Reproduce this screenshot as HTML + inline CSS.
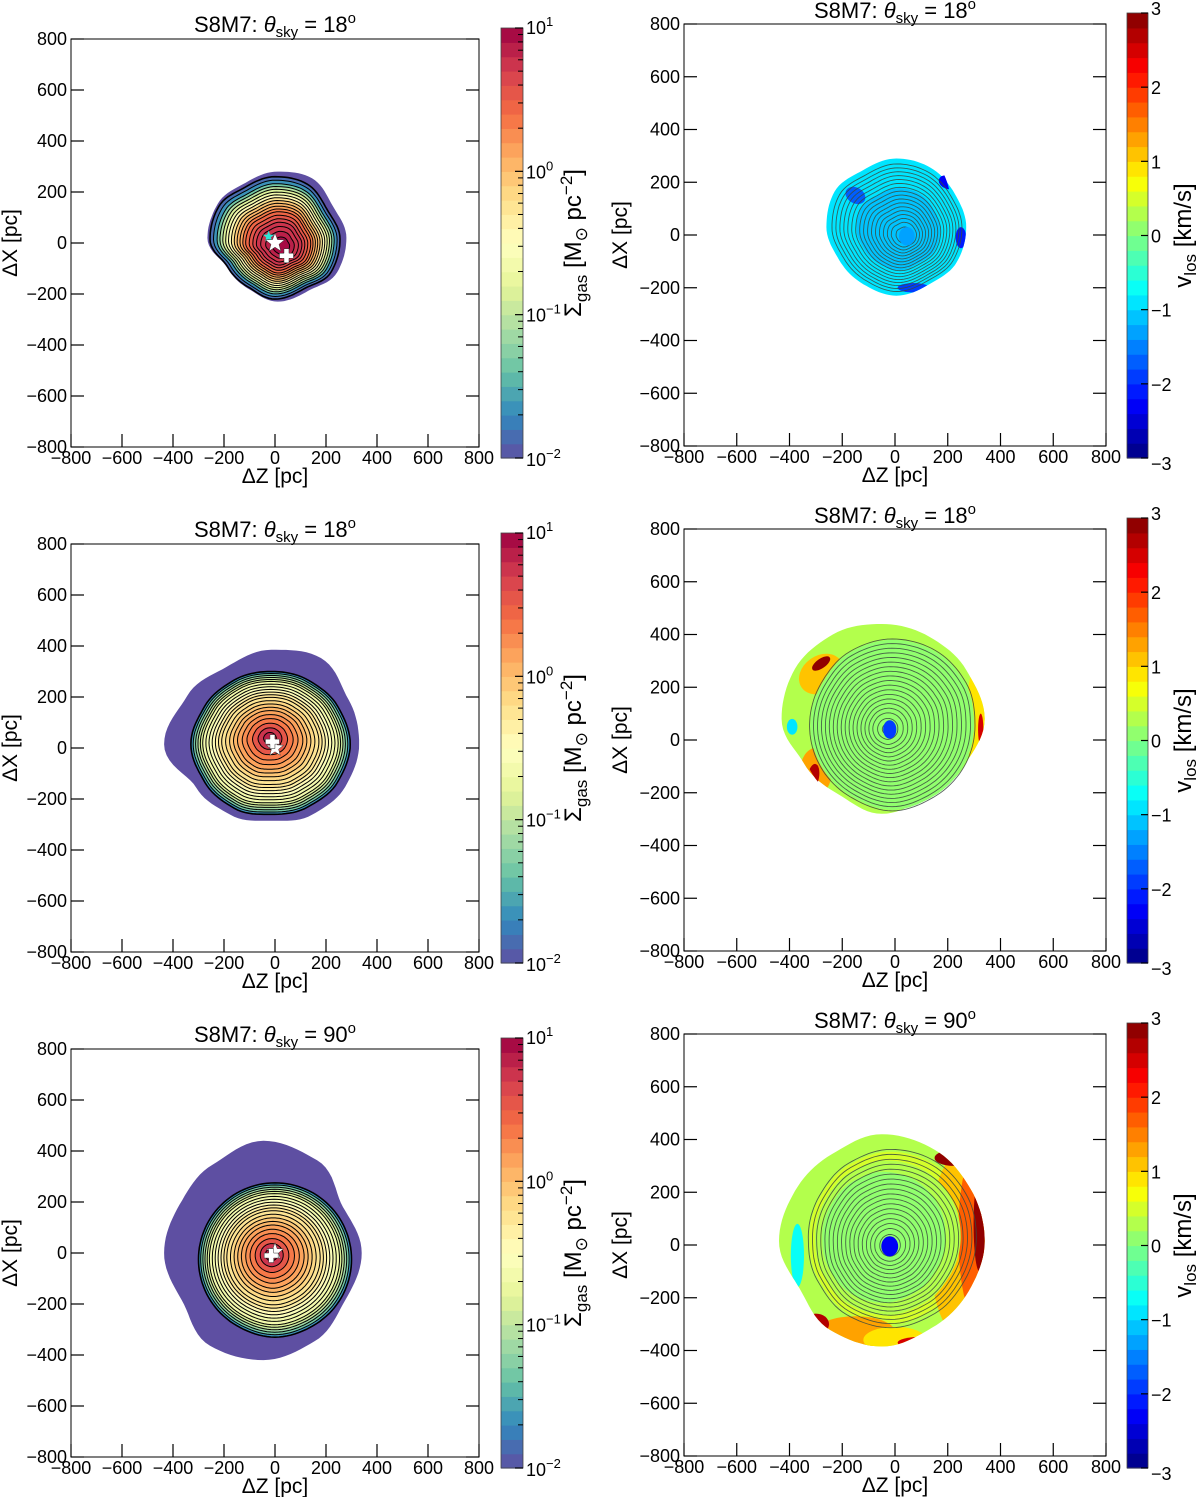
<!DOCTYPE html>
<html><head><meta charset="utf-8"><style>
html,body{margin:0;padding:0;background:#fff;}
svg{display:block;font-family:"Liberation Sans","DejaVu Sans",sans-serif;}
</style></head><body>
<svg id="fig" width="1200" height="1497" viewBox="0 0 1200 1497" xmlns="http://www.w3.org/2000/svg"></svg>
<script>
// ---------- data ----------
const xTicks = [-800,-600,-400,-200,0,200,400,600,800];
const yTicks = [-800,-600,-400,-200,0,200,400,600,800];
const titles = ["18","18","18","18","90","90"];
const densScales1 = [1,0.95,0.9,0.86,0.82,0.78,0.74,0.70,0.66,0.62,0.58,0.54,0.50,0.45,0.40,0.35,0.29,0.22,0.14];
const densVals1   = [-1.9,-1.6,-1.3,-1.05,-0.8,-0.6,-0.42,-0.25,-0.1,0.05,0.18,0.3,0.42,0.52,0.62,0.72,0.8,0.88,0.95];
const densScales2 = [1,0.97,0.94,0.91,0.88,0.85,0.81,0.77,0.73,0.69,0.65,0.61,0.56,0.51,0.46,0.41,0.35,0.29,0.22,0.15,0.08];
const densVals2   = [-1.7,-1.4,-1.15,-0.95,-0.8,-0.7,-0.6,-0.52,-0.45,-0.38,-0.3,-0.22,-0.14,-0.05,0.05,0.15,0.27,0.4,0.55,0.7,0.85];
const outer1 = [270,250,270,260,250,270,275,230,230,250,240,270];
const cont1  = [255,235,250,245,235,255,255,215,215,235,225,255];
const outer3 = [345,350,390,370,350,380,420,340,320,300,320,335];
const cont3  = [310,300,290,285,290,300,315,300,290,275,285,300];
const outer5 = [385,360,420,440,400,380,390,370,420,420,400,370];
const cont5  = [300,300,300,300,300,300,300,300,300,305,300,300];
const outer2 = [265,255,260,260,250,270,265,250,250,260,250,265];
const outer4 = [390,370,360,360,370,380,380,340,330,360,340,360];
const cont4  = [320,330,335,335,330,320,320,320,320,330,320,320];
const outer6 = [390,390,400,405,380,380,390,360,390,400,380,380];
const cont6  = [330,335,340,340,330,320,320,330,345,350,340,330];
const velScales2 = [1,0.6];
const velVals2   = [-1.0,-1.1];
const velScales4 = [1,0.97,0.9];
const velVals4   = [0.2,0.1,0.0];
const velScales6 = [1,0.95,0.85,0.72];
const velVals6   = [0.3,0.5,0.25,0.0];
const contourFracs = [0.98,0.93,0.88,0.83,0.78,0.73,0.68,0.63,0.58,0.53,0.48,0.43,0.38,0.33,0.28,0.23,0.18,0.12,0.06];

// ---------- helpers ----------
const NS="http://www.w3.org/2000/svg";
const svg=document.getElementById('fig');
function mk(tag,attrs,parent){const e=document.createElementNS(NS,tag);for(const k in attrs)e.setAttribute(k,attrs[k]);(parent||svg).appendChild(e);return e;}
const spec=["#5e4fa2","#3288bd","#66c2a5","#abdda4","#e6f598","#ffffbf","#fee08b","#fdae61","#f46d43","#d53e4f","#9e0142"];
function hex2(h){return [parseInt(h.substr(1,2),16),parseInt(h.substr(3,2),16),parseInt(h.substr(5,2),16)];}
function interp(stops,t){t=Math.max(0,Math.min(1,t));const p=t*(stops.length-1);const i=Math.min(stops.length-2,Math.floor(p));const f=p-i;const a=hex2(stops[i]),b=hex2(stops[i+1]);return 'rgb('+a.map((v,k)=>Math.round(v+(b[k]-v)*f)).join(',')+')';}
function q(t){return (Math.min(29,Math.floor(t*30))+0.5)/30;}
function specCol(v){return interp(spec,q((v+2)/3));}
function cl(x){return Math.max(0,Math.min(1,x));}
function jetT(t){const r=cl(1.5-Math.abs(4*t-3)),g=cl(1.5-Math.abs(4*t-2)),b=cl(1.5-Math.abs(4*t-1));return 'rgb('+[r,g,b].map(x=>Math.round(x*255)).join(',')+')';}
function jetCol(v){return jetT(q((v+3)/6));}
function shapePath(P,cz,cx,radii,s){const pts=[];const n=120;for(let i=0;i<n;i++){const th=i/n*2*Math.PI;const pos=th/(2*Math.PI)*12;const j=Math.floor(pos);const f=pos-j;const r0=radii[j%12],r1=radii[(j+1)%12];const w=(1-Math.cos(f*Math.PI))/2;const r=(r0*(1-w)+r1*w)*s;pts.push(P.sx(cz+r*Math.cos(th)).toFixed(1)+','+P.sy(cx+r*Math.sin(th)).toFixed(1));}return 'M'+pts.join('L')+'Z';}
function starPath(x,y,R){let d='';for(let i=0;i<10;i++){const r=i%2?R*0.42:R;const a=-Math.PI/2+i*Math.PI/5;d+=(i?'L':'M')+(x+r*Math.cos(a)).toFixed(1)+','+(y+r*Math.sin(a)).toFixed(1);}return d+'Z';}
function plusPath(x,y,r,w){return `M${x-w},${y-r}H${x+w}V${y-w}H${x+r}V${y+w}H${x+w}V${y+r}H${x-w}V${y+w}H${x-r}V${y-w}H${x-w}Z`;}

function makePanel(x0,top,size){const k=size/1600;return {x0,top,size,sx:z=>x0+(z+800)*k,sy:x=>top+(800-x)*k};}
function title(g,cx,y,ang,name){const t=mk('text',{x:cx,y:y,'font-size':22,'text-anchor':'middle'},g);
 
 mk('tspan',{},t).textContent='S8M7:  ';
 mk('tspan',{'font-style':'italic'},t).textContent='θ';
 mk('tspan',{'font-size':15,dy:5},t).textContent='sky';
 mk('tspan',{dy:-5},t).textContent=' = '+ang;
 mk('tspan',{'font-size':15,dy:-9},t).textContent='o';}
function axes(P,g,ytx){
 mk('rect',{x:P.x0,y:P.top,width:P.size,height:P.size,fill:'none',stroke:'#000','stroke-width':1},g);
 yTicks.forEach(v=>{const y=P.sy(v);
  mk('line',{x1:P.x0,y1:y,x2:P.x0+13,y2:y,stroke:'#000','stroke-width':1.2},g);
  mk('line',{x1:P.x0+P.size,y1:y,x2:P.x0+P.size-13,y2:y,stroke:'#000','stroke-width':1.2},g);
  const t=mk('text',{x:P.x0-4,y:y+6,'font-size':18,'text-anchor':'end'},g);
  
  t.textContent=String(v).replace('-','−');});
 xTicks.forEach(v=>{const x=P.sx(v);
  mk('line',{x1:x,y1:P.top+P.size,x2:x,y2:P.top+P.size-13,stroke:'#000','stroke-width':1.2},g);
  const t=mk('text',{x:x,y:P.top+P.size+17,'font-size':18,'text-anchor':'middle'},g);
  
  t.textContent=String(v).replace('-','−');});
 const xt=mk('text',{x:P.x0+P.size/2,y:P.top+P.size+36,'font-size':21,'text-anchor':'middle'},g);
 
 xt.textContent='ΔZ [pc]';
 const yx=ytx, yy=P.top+P.size/2;
 const yt=mk('text',{x:yx,y:yy,'font-size':21,'text-anchor':'middle',transform:`rotate(-90 ${yx} ${yy})`},g);
 
 yt.textContent='ΔX [pc]';
}
function densCbar(g,x,y0,y1){
 const h=(y1-y0)/30;
 for(let i=0;i<30;i++){const r=mk('rect',{x:x,y:(y1-(i+1)*h).toFixed(2),width:22,height:(h+0.6).toFixed(2),fill:interp(spec,(i+0.5)/30)},g);}
 mk('rect',{x:x,y:y0,width:22,height:y1-y0,fill:'none',stroke:'#444','stroke-width':0.8},g);
 const exps=['−2','−1','0','1'];
 for(let d=0;d<4;d++){const yy=y1-(y1-y0)*d/3;
  mk('line',{x1:x+22,y1:yy,x2:x+14,y2:yy,stroke:'#000','stroke-width':1.2},g);
  const t=mk('text',{x:x+25,y:yy+(d==0?8:d==3?6:7),'font-size':18},g);
  
  t.textContent='10';mk('tspan',{'font-size':13,dy:-8},t).textContent=exps[d];
  if(d<3)for(let m=2;m<10;m++){const ym=yy-(y1-y0)/3*Math.log10(m);mk('line',{x1:x+22,y1:ym,x2:x+17,y2:ym,stroke:'#000','stroke-width':1},g);}}
 const lx=x+80, ly=(y0+y1)/2;
 const t=mk('text',{x:lx,y:ly,'font-size':24,'text-anchor':'middle',transform:`rotate(-90 ${lx} ${ly})`},g);
 
 t.textContent='Σ';mk('tspan',{'font-size':17,dy:6},t).textContent='gas';
 mk('tspan',{dy:-6},t).textContent=' [M';mk('tspan',{'font-size':17,dy:6},t).textContent='⊙';
 mk('tspan',{dy:-6},t).textContent=' pc';mk('tspan',{'font-size':17,dy:-9},t).textContent='−2';
 mk('tspan',{dy:9},t).textContent=']';
}
function velCbar(g,x,y0,y1){
 const h=(y1-y0)/30;
 for(let i=0;i<30;i++){const r=mk('rect',{x:x,y:(y1-(i+1)*h).toFixed(2),width:21,height:(h+0.6).toFixed(2),fill:jetT((i+0.5)/30)},g);}
 mk('rect',{x:x,y:y0,width:21,height:y1-y0,fill:'none',stroke:'#444','stroke-width':0.8},g);
 for(let v=-3;v<=3;v++){const yy=y1-(y1-y0)*(v+3)/6;
  mk('line',{x1:x+21,y1:yy,x2:x+14,y2:yy,stroke:'#000','stroke-width':1.2},g);
  const t=mk('text',{x:x+24,y:yy+(v==-3?12:v==3?2:7),'font-size':18},g);
  
  t.textContent=String(v).replace('-','−');}
 const lx=x+64, ly=(y0+y1)/2;
 const t=mk('text',{x:lx,y:ly,'font-size':24,'text-anchor':'middle',transform:`rotate(-90 ${lx} ${ly})`},g);
 
 t.textContent='v';mk('tspan',{'font-size':17,dy:5},t).textContent='los';
 mk('tspan',{dy:-5},t).textContent=' [km/s]';
}
function densMap(P,g,o){
 const p=mk('path',{d:shapePath(P,o.oc[0],o.oc[1],o.outer,1),fill:'#5e4fa2'},g);
 
 o.scales.forEach((s,i)=>{const w=1-s;const cz=o.cc[0]*(1-w)+o.ic[0]*w, cx=o.cc[1]*(1-w)+o.ic[1]*w;
  const e=mk('path',{d:shapePath(P,cz,cx,o.cont,s),fill:specCol(o.vals[i]),stroke:'#000','stroke-width':i==0?1.6:1},g);
  });
 o.marks.forEach(m=>{
  const el=mk('path',{d:m.t=='star'?starPath(P.sx(m.z),P.sy(m.x),m.r):plusPath(P.sx(m.z),P.sy(m.x),7,2.5),fill:m.c,stroke:m.c=='#fff'?'#333':'none','stroke-width':0.5},g);
  });
}
function patch(P,g,pt,clip){const e=mk('ellipse',{cx:P.sx(pt[0]),cy:P.sy(pt[1]),rx:pt[2]*P.size/1600,ry:pt[3]*P.size/1600,fill:jetCol(pt[4]),transform:`rotate(${pt[5]} ${P.sx(pt[0])} ${P.sy(pt[1])})`},g);
 if(clip)e.setAttribute('clip-path','url(#'+clip+')');
 }
let clipN=0;
function velMap(P,g,o){
 const cid='blobclip'+(clipN++);
 const cp=mk('clipPath',{id:cid},g);mk('path',{d:shapePath(P,o.oc[0],o.oc[1],o.outer,1)},cp);
 const ui=o.underAt||0;
 o.scales.forEach((s,i)=>{const w=1-s;const cz=o.cc[0]+o.shift[0]*w, cx=o.cc[1]+o.shift[1]*w;
  const radii=i==0?o.outer:o.cont;
  const e=mk('path',{d:shapePath(P,i==0?o.oc[0]:cz,i==0?o.oc[1]:cx,radii,i==0?1:s),fill:jetCol(o.vals[i])},g);
  
  if(i==ui)(o.under||[]).forEach(pt=>patch(P,g,pt,cid));});
 (o.patches||[]).forEach(pt=>patch(P,g,pt,cid));
 contourFracs.forEach(s=>{if(s>o.maxC)return;const w=1-s;const cz=o.cc[0]*(1-w)+o.ic[0]*w, cx=o.cc[1]*(1-w)+o.ic[1]*w;
  const e=mk('path',{d:shapePath(P,cz,cx,o.cont,s),fill:'none',stroke:'#3a4a40','stroke-width':0.9,'stroke-opacity':0.85},g);
  });
 const c=mk('ellipse',{cx:P.sx(o.core[0]),cy:P.sy(o.core[1]),rx:o.core[2]*P.size/1600,ry:o.core[3]*P.size/1600,fill:jetCol(o.core[4])},g);
 
}

const leftTops=[39,544,1049], rightTops=[24,529,1034];
const densOpts=[
 {oc:[10,20],outer:outer1,cc:[0,15],ic:[25,-15],cont:cont1,scales:densScales1,vals:densVals1,
  marks:[{t:'star',z:-25,x:25,r:6,c:'#2ee6d6'},{t:'star',z:0,x:0,r:10,c:'#fff'},{t:'plus',z:45,x:-50,c:'#fff'}]},
 {oc:[-15,15],outer:outer3,cc:[-15,15],ic:[-20,40],cont:cont3,scales:densScales2,vals:densVals2,
  marks:[{t:'star',z:0,x:0,r:9,c:'#fff'},{t:'plus',z:-10,x:25,c:'#fff'}]},
 {oc:[-45,0],outer:outer5,cc:[0,-25],ic:[-15,-5],cont:cont5,scales:densScales2,vals:densVals2,
  marks:[{t:'star',z:0,x:5,r:9,c:'#fff'},{t:'plus',z:-15,x:-10,c:'#fff'}]}
];
const velOpts=[
 {oc:[5,30],outer:outer2,cc:[5,30],cont:outer2,ic:[40,-5],shift:[20,-20],scales:velScales2,vals:velVals2,maxC:0.93,
  patches:[[200,200,35,25,-2.2,20],[250,-10,20,40,-2.1,0],[70,-200,60,18,-2.0,0],[-150,150,40,30,-1.6,30]],core:[45,-5,30,35,-1.3]},
 {oc:[-50,80],outer:outer4,cc:[-10,55],cont:cont4,ic:[-30,40],shift:[-20,0],scales:velScales4,vals:velVals4,maxC:0.98,
  under:[[-280,250,90,70,1.0,-35],[310,80,40,200,0.9,0],[-300,-120,60,90,1.2,0]],
  patches:[[-280,290,40,18,2.8,-35],[-310,-140,22,50,2.7,10],[325,40,10,60,2.4,0],[-390,50,20,30,-1.0,0]],core:[-20,40,25,35,-1.8]},
 {oc:[-50,15],outer:outer6,cc:[-15,30],cont:cont6,ic:[-20,-5],shift:[-110,10],scales:velScales6,vals:velVals6,maxC:0.98,underAt:1,
  under:[[260,0,130,360,1.0,0],[310,40,70,320,1.8,0],[-150,-330,150,60,1.3,0],[0,-360,120,50,0.9,0]],
  patches:[[-300,-300,50,40,2.7,0],[220,330,70,30,2.8,0],[320,80,22,180,2.8,0],[100,-370,90,22,2.6,0],[-370,-40,25,120,-0.6,0]],core:[-20,-5,32,38,-2.4]}
];
for(let r=0;r<3;r++){
 const gL=mk('g',{});
 const PL=makePanel(71,leftTops[r],408);
 densMap(PL,gL,densOpts[r]);axes(PL,gL,17);
 title(gL,275,leftTops[r]-7,titles[2*r],'density-panel-title');
 densCbar(gL,501,leftTops[r]-11,leftTops[r]+419);
 const gR=mk('g',{});
 const PR=makePanel(684,rightTops[r],422);
 velMap(PR,gR,velOpts[r]);axes(PR,gR,627);
 title(gR,895,rightTops[r]-6,titles[2*r+1],'velocity-panel-title');
 velCbar(gR,1127,rightTops[r]-11,rightTops[r]+434);
}
</script>
</body></html>
